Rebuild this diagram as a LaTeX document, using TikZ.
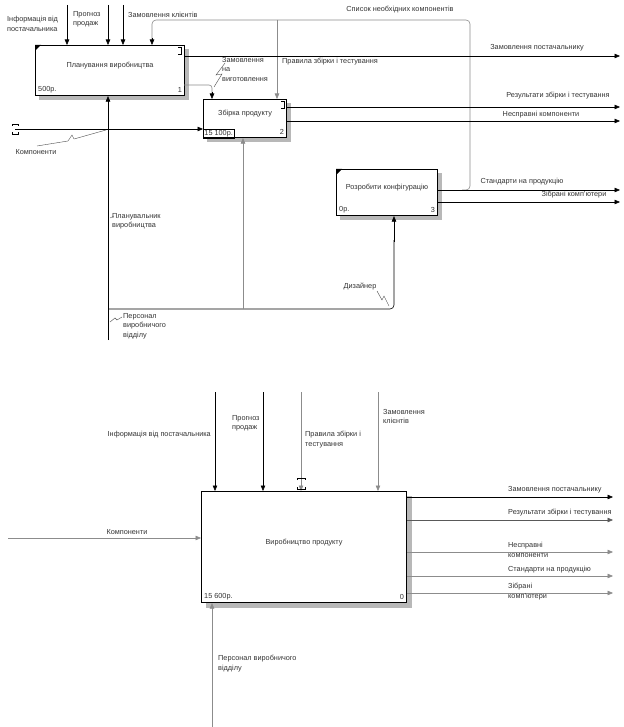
\documentclass[tikz,border=0pt]{standalone}
\usepackage{fontspec}
\setmainfont{Liberation Sans}
\usetikzlibrary{arrows.meta}
\newcommand{\uptxt}[1]{\raisebox{4.5pt}[\height][\depth]{#1}}
\begin{document}
\begin{tikzpicture}[x=1pt,y=-1pt,
  lbl/.style={font=\fontsize{7.3}{9.6}\selectfont, text=black!80, inner sep=0pt, align=left},
  fn/.style={draw=black, line width=1.1pt, fill=white, inner sep=0pt, anchor=north west,
             font=\fontsize{7.3}{9}\selectfont, text=black!80},
  shd/.style={fill=black!28, draw=none},
  ar/.style={-{Triangle[length=5.5pt,width=4.5pt]}, line width=0.6pt, draw=black},
  gar/.style={ar, draw=black!45},
  ln/.style={line width=0.6pt, draw=black},
  gln/.style={line width=0.6pt, draw=black!45},
  sq/.style={line width=0.4pt, draw=black!70},
  corner/.style={fill=black},
]
\useasboundingbox (0,0) rectangle (623,727);
\fill[white] (0,0) rectangle (623,727);

% ================= TOP DIAGRAM =================
% shadows
\fill[shd] (184,49) rectangle (189,100);
\fill[shd] (39,95) rectangle (189,100);
\fill[shd] (286,103) rectangle (291,142);
\fill[shd] (207,137) rectangle (291,142);
\fill[shd] (437,173) rectangle (442,220);
\fill[shd] (340,215) rectangle (442,220);

% boxes
\node[fn, minimum width=149pt, minimum height=50pt] (b1) at (35,45) {\uptxt{Планування виробництва}};
\node[fn, minimum width=83pt, minimum height=38pt] (b2) at (203,99) {\uptxt{Збірка продукту}};
\node[fn, minimum width=101pt, minimum height=46pt] (b3) at (336,169) {\uptxt{Розробити конфігурацію}};

% box annotations
\node[lbl, anchor=south west] (c1) at ([shift={(3,-3)}]b1.south west) {500р.};
\node[lbl, anchor=south east] (n1) at ([shift={(-3,-3)}]b1.south east) {1};
\node[lbl, draw=black, line width=0.5pt, inner sep=1.2pt, anchor=south west] (c2) at (b2.south west) {15 100р.};
\node[lbl, anchor=south east] (n2) at ([shift={(-3,-3)}]b2.south east) {2};
\node[lbl, anchor=south west] (c3) at ([shift={(3,-3)}]b3.south west) {0р.};
\node[lbl, anchor=south east] (n3) at ([shift={(-3,-3)}]b3.south east) {3};
\fill[corner] (b1.north west) -- ++(6,0) -- ++(-6,6) -- cycle;
\fill[corner] (b3.north west) -- ++(6,0) -- ++(-6,6) -- cycle;
\draw[line width=0.5pt] ([shift={(-7,2)}]b1.north east) -- ++(3,0) -- ++(0,7) -- ++(-3,0);
\draw[line width=0.5pt] ([shift={(-6,2)}]b2.north east) -- ++(3,0) -- ++(0,7) -- ++(-3,0);

% top inputs to box 1
\coordinate (t1) at (67,5);
\coordinate (t2) at (108,5);
\coordinate (t3) at (123,5);
\draw[ar] (t1) -- (t1 |- b1.north);
\draw[ar] (t2) -- (t2 |- b1.north);
\draw[ar] (t3) -- (t3 |- b1.north);
\node[lbl, anchor=north west] (l1) at (7,16) {Інформація від\\постачальника};
\node[lbl, anchor=north west] (l2) at (73,11) {Прогноз\\продаж};
\node[lbl, anchor=west] (l3) at (128,15) {Замовлення клієнтів};

% feedback loop from box 3 output to boxes 1 and 2
\coordinate (fb) at (462,190);
\coordinate (fbt) at (152,40);
\draw[gln, rounded corners=4pt] (fb) -| (470,20) -| (fbt);
\coordinate (fbs) at (152,38);
\draw[ar] (fbs) -- (fbs |- b1.north);
\coordinate (t4) at (277,20);
\draw[gar] (t4) -- (t4 |- b2.north);
\node[lbl] (l4) at (400,10) {Список необхідних компонентів};
\node[lbl, anchor=west] (l5) at (282,62) {Правила збірки і тестування};

% outputs of box 1
\coordinate (e1) at (620,56);
\draw[ar] (b1.east |- e1) -- (e1);
\node[lbl] (l6) at (537,48) {Замовлення постачальнику};
\coordinate (o2) at (184,85);
\coordinate (o2d) at (212,95);
\draw[gln, rounded corners=3pt] (o2) -| (o2d);
\coordinate (o2s) at (212,92);
\draw[ar] (o2s) -- (o2s |- b2.north);
\node[lbl, anchor=north west] (l7) at (222,57) {Замовлення\\на\\виготовлення};
\draw[sq] (225,63) -- (216,75) -- (222,74) -- (214,87);

% outputs of box 2
\coordinate (e2) at (620,107);
\coordinate (e3) at (620,121);
\draw[ar] (b2.east |- e2) -- (e2);
\draw[ar] (b2.east |- e3) -- (e3);
\node[lbl] (l8) at (558,96) {Результати збірки і тестування};
\node[lbl] (l9) at (541,115) {Несправні компоненти};

% input to box 2
\coordinate (k0) at (15,129);
\draw[ar] (k0) -- (k0 -| b2.west);
\draw[line width=0.6pt] (12,126) -- (12,124) -- (18,124) -- (18,126);
\draw[line width=0.6pt] (12,132) -- (12,134) -- (18,134) -- (18,132);
\node[lbl] (l10) at (36,152) {Компоненти};
\draw[sq] (37,146) -- (68,141) -- (72,135) -- (74,139) -- (106,130);

% outputs of box 3
\coordinate (e4) at (620,190);
\coordinate (e5) at (620,202);
\draw[ar] (b3.east |- e4) -- (e4);
\draw[ar] (b3.east |- e5) -- (e5);
\node[lbl] (l11) at (522,182) {Стандарти на продукцію};
\node[lbl] (l12) at (574,195) {Зібрані комп'ютери};

% mechanisms
\coordinate (m0) at (108,340);
\draw[ar] (m0) -- (m0 |- b1.south);
\coordinate (mj) at (108,309);
\coordinate (mk) at (394,309);
\coordinate (mt) at (394,240);
\draw[ln, rounded corners=4pt] (mj) -- (mk) -- (mt);
\coordinate (ms) at (394,242);
\draw[ar] (ms) -- (ms |- b3.south);
\coordinate (m2) at (243,309);
\draw[gar] (m2) -- (m2 |- b2.south);
\node[lbl, anchor=north west] (l13) at (112,213) {Планувальник\\виробництва};
\draw[sq] (110,218) -- (114,216);
\node[lbl] (l14) at (360,287) {Дизайнер};
\draw[sq] (377,291) -- (382,300) -- (384,296) -- (389,306);
\node[lbl, anchor=north west] (l15) at (123,313) {Персонал\\виробничого\\відділу};
\draw[sq] (110,322) -- (115,318) -- (117,320) -- (122,317);

% ================= BOTTOM DIAGRAM =================
\fill[shd] (406,496) rectangle (412,608);
\fill[shd] (206,602) rectangle (412,608);
\node[fn, minimum width=205pt, minimum height=111pt] (b0) at (201,491) {\uptxt{Виробництво продукту}};
\node[lbl, anchor=south west] (c0) at ([shift={(3,-3)}]b0.south west) {15 600р.};
\node[lbl, anchor=south east] (n0) at ([shift={(-3,-3)}]b0.south east) {0};

\coordinate (u1) at (215,392);
\coordinate (u2) at (263,392);
\coordinate (u3) at (301,392);
\coordinate (u4) at (378,392);
\draw[ar] (u1) -- (u1 |- b0.north);
\draw[ar] (u2) -- (u2 |- b0.north);
\draw[gar] (u3) -- (u3 |- b0.north);
\draw[gar] (u4) -- (u4 |- b0.north);
\draw[line width=0.5pt] (297,480) -- (297,478) -- (305,478) -- (305,480);
\draw[line width=0.5pt] (297,487) -- (297,489) -- (305,489) -- (305,487);
\node[lbl, anchor=east] (v1) at (211,435) {Інформація від постачальника};
\node[lbl, anchor=north west] (v2) at (232,415) {Прогноз\\продаж};
\node[lbl, anchor=north west] (v3) at (305,431) {Правила збірки і\\тестування};
\node[lbl, anchor=north west] (v4) at (383,409) {Замовлення\\клієнтів};

\coordinate (k1) at (8,538);
\draw[gar] (k1) -- (k1 -| b0.west);
\node[lbl] (v5) at (127,532) {Компоненти};

\coordinate (f1) at (613,497);
\coordinate (f2) at (613,520);
\coordinate (f3) at (613,552);
\coordinate (f4) at (613,576);
\coordinate (f5) at (613,593);
\draw[ar] (b0.east |- f1) -- (f1);
\draw[ar, draw=black!65] (b0.east |- f2) -- (f2);
\draw[gar] (b0.east |- f3) -- (f3);
\draw[gar] (b0.east |- f4) -- (f4);
\draw[gar] (b0.east |- f5) -- (f5);
\node[lbl, anchor=west] (w1) at (508,490) {Замовлення постачальнику};
\node[lbl, anchor=west] (w2) at (508,513) {Результати збірки і тестування};
\node[lbl, anchor=north west] (w3) at (508,542) {Несправні\\компоненти};
\node[lbl, anchor=west] (w4) at (508,570) {Стандарти на продукцію};
\node[lbl, anchor=north west] (w5) at (508,583) {Зібрані\\комп'ютери};

\coordinate (p1) at (212,727);
\draw[gar] (p1) -- (p1 |- b0.south);
\node[lbl, anchor=north west] (w6) at (218,655) {Персонал виробничого\\відділу};
\end{tikzpicture}
\end{document}
